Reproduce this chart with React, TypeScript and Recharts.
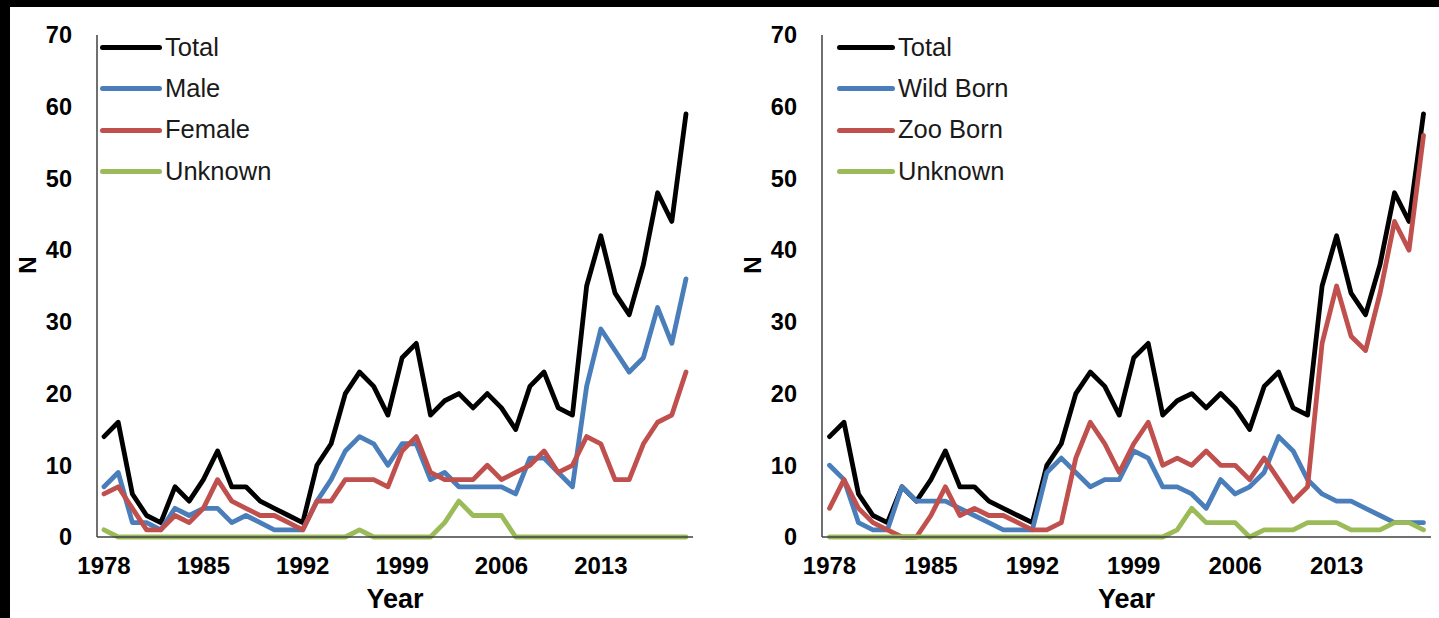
import React from 'react';
import { LineChart, Line, XAxis, YAxis, Legend, Label } from 'recharts';

// years on the x axis
const years = [
  1978, 1979, 1980, 1981, 1982, 1983, 1984, 1985, 1986, 1987,
  1988, 1989, 1990, 1991, 1992, 1993, 1994, 1995, 1996, 1997,
  1998, 1999, 2000, 2001, 2002, 2003, 2004, 2005, 2006, 2007,
  2008, 2009, 2010, 2011, 2012, 2013, 2014, 2015, 2016, 2017,
  2018, 2019,
];

const total = [
  14, 16, 6, 3, 2, 7, 5, 8, 12, 7,
  7, 5, 4, 3, 2, 10, 13, 20, 23, 21,
  17, 25, 27, 17, 19, 20, 18, 20, 18, 15,
  21, 23, 18, 17, 35, 42, 34, 31, 38, 48,
  44, 59,
];

// left panel: by sex
const male = [
  7, 9, 2, 2, 1, 4, 3, 4, 4, 2,
  3, 2, 1, 1, 1, 5, 8, 12, 14, 13,
  10, 13, 13, 8, 9, 7, 7, 7, 7, 6,
  11, 11, 9, 7, 21, 29, 26, 23, 25, 32,
  27, 36,
];
const female = [
  6, 7, 4, 1, 1, 3, 2, 4, 8, 5,
  4, 3, 3, 2, 1, 5, 5, 8, 8, 8,
  7, 12, 14, 9, 8, 8, 8, 10, 8, 9,
  10, 12, 9, 10, 14, 13, 8, 8, 13, 16,
  17, 23,
];
const unknownSex = [
  1, 0, 0, 0, 0, 0, 0, 0, 0, 0,
  0, 0, 0, 0, 0, 0, 0, 0, 1, 0,
  0, 0, 0, 0, 2, 5, 3, 3, 3, 0,
  0, 0, 0, 0, 0, 0, 0, 0, 0, 0,
  0, 0,
];

// right panel: by origin
const wildBorn = [
  10, 8, 2, 1, 1, 7, 5, 5, 5, 4,
  3, 2, 1, 1, 1, 9, 11, 9, 7, 8,
  8, 12, 11, 7, 7, 6, 4, 8, 6, 7,
  9, 14, 12, 8, 6, 5, 5, 4, 3, 2,
  2, 2,
];
const zooBorn = [
  4, 8, 4, 2, 1, 0, 0, 3, 7, 3,
  4, 3, 3, 2, 1, 1, 2, 11, 16, 13,
  9, 13, 16, 10, 11, 10, 12, 10, 10, 8,
  11, 8, 5, 7, 27, 35, 28, 26, 34, 44,
  40, 56,
];
const unknownOrigin = [
  0, 0, 0, 0, 0, 0, 0, 0, 0, 0,
  0, 0, 0, 0, 0, 0, 0, 0, 0, 0,
  0, 0, 0, 0, 1, 4, 2, 2, 2, 0,
  1, 1, 1, 2, 2, 2, 1, 1, 1, 2,
  2, 1,
];

const yTicks = [0, 10, 20, 30, 40, 50, 60, 70];

const FONT = '"Liberation Sans", Arial, sans-serif';
const BLACK = '#000000';
const BLUE = '#4a7ebb';
const RED = '#c0504d';
const GREEN = '#9bbb59';

const sexData = years.map((year, i) => ({
  year,
  total: total[i],
  male: male[i],
  female: female[i],
  unknown: unknownSex[i],
}));

const originData = years.map((year, i) => ({
  year,
  total: total[i],
  wild: wildBorn[i],
  zoo: zooBorn[i],
  unknown: unknownOrigin[i],
}));

const sexSeries = [
  { key: 'total', label: 'Total', color: BLACK },
  { key: 'male', label: 'Male', color: BLUE },
  { key: 'female', label: 'Female', color: RED },
  { key: 'unknown', label: 'Unknown', color: GREEN },
];

const originSeries = [
  { key: 'total', label: 'Total', color: BLACK },
  { key: 'wild', label: 'Wild Born', color: BLUE },
  { key: 'zoo', label: 'Zoo Born', color: RED },
  { key: 'unknown', label: 'Unknown', color: GREEN },
];

type Series = { key: string; label: string; color: string };

const makeLegend = (items: Series[], swatch: number) => () => (
  <div>
    {items.map((it) => (
      <div key={it.key} style={{ display: 'flex', alignItems: 'center', height: 41.3 }}>
        <span
          style={{
            display: 'inline-block',
            width: swatch,
            height: 5,
            borderRadius: 3,
            background: it.color,
            marginRight: 3,
          }}
        />
        <span style={{ fontFamily: FONT, fontSize: 25.5, color: '#1a1a1a', lineHeight: 1 }}>{it.label}</span>
      </div>
    ))}
  </div>
);

interface PanelProps {
  data: any[];
  series: Series[];
  left: number;
  width: number;
  rightMargin: number;
  pad: number;
  legendLeft: number;
  swatch: number;
}

function Panel({ data, series, left, width, rightMargin, pad, legendLeft, swatch }: PanelProps) {
  return (
    <div style={{ position: 'absolute', left, top: 0 }}>
      <LineChart
        width={width}
        height={618}
        data={data}
        margin={{ top: 35, right: rightMargin, bottom: 0, left: 0 }}
      >
        <XAxis
          dataKey="year"
          type="category"
          interval={6}
          height={81}
          padding={{ left: pad, right: pad }}
          tickLine={false}
          tickSize={0}
          tickMargin={20}
          axisLine={{ stroke: '#404040', strokeWidth: 1.5 }}
          tick={{ fill: '#000', fontSize: 24, fontWeight: 700, fontFamily: FONT }}
        >
          <Label
            value="Year"
            position="insideBottom"
            offset={10}
            style={{ fill: '#000', fontSize: 27, fontWeight: 700, fontFamily: FONT }}
          />
        </XAxis>
        <YAxis
          width={97}
          domain={[0, 70]}
          ticks={yTicks}
          interval={0}
          tickLine={false}
          tickSize={0}
          tickMargin={25}
          axisLine={{ stroke: '#404040', strokeWidth: 1.5 }}
          tick={{ fill: '#000', fontSize: 23.5, fontWeight: 700, fontFamily: FONT }}
        >
          <Label
            content={() => (
              <text
                x={27}
                y={265}
                transform="rotate(-90 27 265)"
                textAnchor="middle"
                dominantBaseline="central"
                style={{ fill: '#000', fontSize: 24, fontWeight: 700, fontFamily: FONT }}
              >
                N
              </text>
            )}
          />
        </YAxis>
        <Legend
          layout="vertical"
          align="center"
          verticalAlign="middle"
          content={makeLegend(series, swatch)}
          wrapperStyle={{ top: 27, left: legendLeft, width: 'auto', height: 'auto' }}
        />
        {series.map((s) => (
          <Line
            key={s.key}
            type="linear"
            dataKey={s.key}
            stroke={s.color}
            strokeWidth={4.8}
            strokeLinejoin="round"
            strokeLinecap="round"
            dot={false}
            activeDot={false}
            isAnimationActive={false}
          />
        ))}
      </LineChart>
    </div>
  );
}

export default function App() {
  return (
    <div
      style={{
        position: 'fixed',
        left: 0,
        top: 0,
        width: 1439,
        height: 618,
        background: '#000',
        overflow: 'hidden',
      }}
    >
      <div style={{ position: 'absolute', left: 10, top: 7, width: 1429, height: 611, background: '#fff' }} />
      <Panel
        data={sexData}
        series={sexSeries}
        left={0}
        width={720}
        rightMargin={27}
        pad={7}
        legendLeft={100}
        swatch={62}
      />
      <Panel
        data={originData}
        series={originSeries}
        left={725}
        width={714}
        rightMargin={8}
        pad={7.5}
        legendLeft={112}
        swatch={58}
      />
    </div>
  );
}
